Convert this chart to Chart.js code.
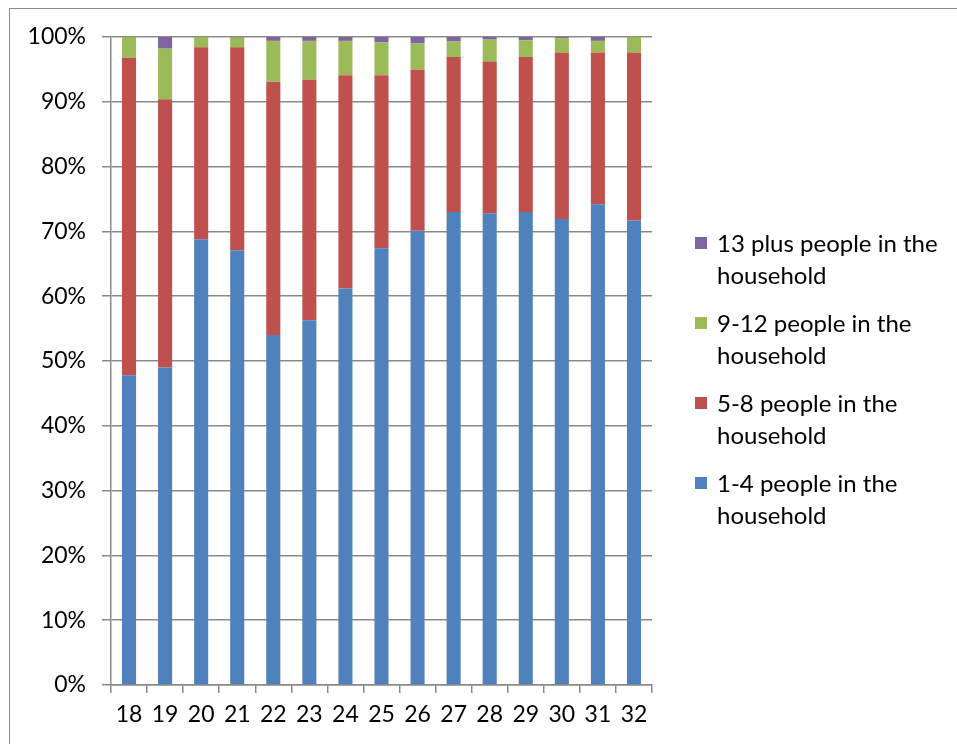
<!DOCTYPE html>
<html>
<head>
<meta charset="utf-8">
<script src="https://cdn.jsdelivr.net/npm/chart.js@4/dist/chart.umd.min.js"></script>
<style>
  html, body { margin: 0; padding: 0; background: #fff; }
  #wrap { position: relative; width: 957px; height: 744px; overflow: hidden; }
  #frame { position: absolute; left: 9px; top: 8px; width: 1000px; height: 800px;
           border-left: 1.5px solid #8a8a8a; border-top: 1.5px solid #8a8a8a; box-sizing: border-box; }
  #chart { position: absolute; left: 0; top: 0; }
  #legend { position: absolute; left: 695px; top: 227px; font-family: Lato, "Open Sans", sans-serif;
            font-size: 24px; color: #000; }
  .item { position: relative; padding-left: 22px; line-height: 32px; margin-bottom: 16px; white-space: nowrap; }
  .swatch { position: absolute; left: 0; top: 10px; width: 12px; height: 12px; }
</style>
</head>
<body>
<div id="wrap">
  <div id="frame"></div>
  <canvas id="chart" width="957" height="744"></canvas>
  <div id="legend"></div>
</div>
<script>
// Household size distribution by age, shares stacked to 100%
const ages = ['18', '19', '20', '21', '22', '23', '24', '25', '26', '27', '28', '29', '30', '31', '32'];
const size1to4   = [47.8, 49.0, 68.8, 67.1, 54.0, 56.3, 61.2, 67.4, 70.1, 73.0, 72.8, 73.0, 71.9, 74.2, 71.7];
const size5to8   = [49.0, 41.4, 29.6, 31.3, 39.1, 37.1, 32.9, 26.7, 24.9, 23.9, 23.4, 23.9, 25.7, 23.4, 25.9];
const size9to12  = [3.2, 7.8, 1.6, 1.5, 6.3, 6.0, 5.3, 5.1, 4.0, 2.4, 3.4, 2.6, 2.2, 1.8, 2.4];
const size13plus = [0.0, 1.8, 0.0, 0.1, 0.6, 0.6, 0.6, 0.8, 1.0, 0.7, 0.4, 0.5, 0.2, 0.6, 0.0];
const seriesNames = [
  ['1-4 people in the', 'household'],
  ['5-8 people in the', 'household'],
  ['9-12 people in the', 'household'],
  ['13 plus people in the', 'household']
];
const percentTicks = [0, 10, 20, 30, 40, 50, 60, 70, 80, 90, 100];

const colors = ['#4F81BD', '#C0504D', '#9BBB59', '#8064A2'];
const values = [size1to4, size5to8, size9to12, size13plus];
const gridColor = '#8a8a8a';
const font = { family: 'Lato, "Open Sans", sans-serif', size: 23 };

const datasets = values.map((v, i) => ({
  label: seriesNames[i].join(' '),
  data: v,
  backgroundColor: colors[i],
  borderWidth: 0,
  categoryPercentage: 1,
  barPercentage: 0.39
}));

const chart = new Chart(document.getElementById('chart'), {
  type: 'bar',
  data: { labels: ages, datasets },
  options: {
    responsive: false,
    animation: false,
    layout: { padding: { left: 0, right: 305, top: 37, bottom: 0 } },
    plugins: { legend: { display: false }, tooltip: { enabled: false } },
    scales: {
      x: {
        stacked: true,
        offset: true,
        grid: { offset: true, drawOnChartArea: false, drawTicks: true, tickLength: 8,
                color: gridColor, lineWidth: 1.5 },
        border: { display: true, color: gridColor, width: 1.5 },
        ticks: { color: '#000', font, padding: 8, maxRotation: 0, autoSkip: false },
        afterFit: s => { s.height = 59; }
      },
      y: {
        stacked: true,
        min: 0,
        max: 100,
        afterBuildTicks: s => { s.ticks = percentTicks.map(v => ({ value: v })); },
        grid: { color: gridColor, lineWidth: 1.5, drawTicks: true, tickLength: 9 },
        border: { display: true, color: gridColor, width: 1.5 },
        ticks: { color: '#000', font, padding: 16, callback: v => v + '%' },
        afterFit: s => { s.width = 111; }
      }
    }
  }
});

// Legend listed top-down in reverse stacking order
const legend = document.getElementById('legend');
chart.data.datasets.map((d, i) => i).reverse().forEach(i => {
  const item = document.createElement('div');
  item.className = 'item';
  const sw = document.createElement('span');
  sw.className = 'swatch';
  sw.style.background = chart.data.datasets[i].backgroundColor;
  item.appendChild(sw);
  seriesNames[i].forEach((line, k) => {
    if (k) item.appendChild(document.createElement('br'));
    item.appendChild(document.createTextNode(line));
  });
  legend.appendChild(item);
});
</script>
</body>
</html>
